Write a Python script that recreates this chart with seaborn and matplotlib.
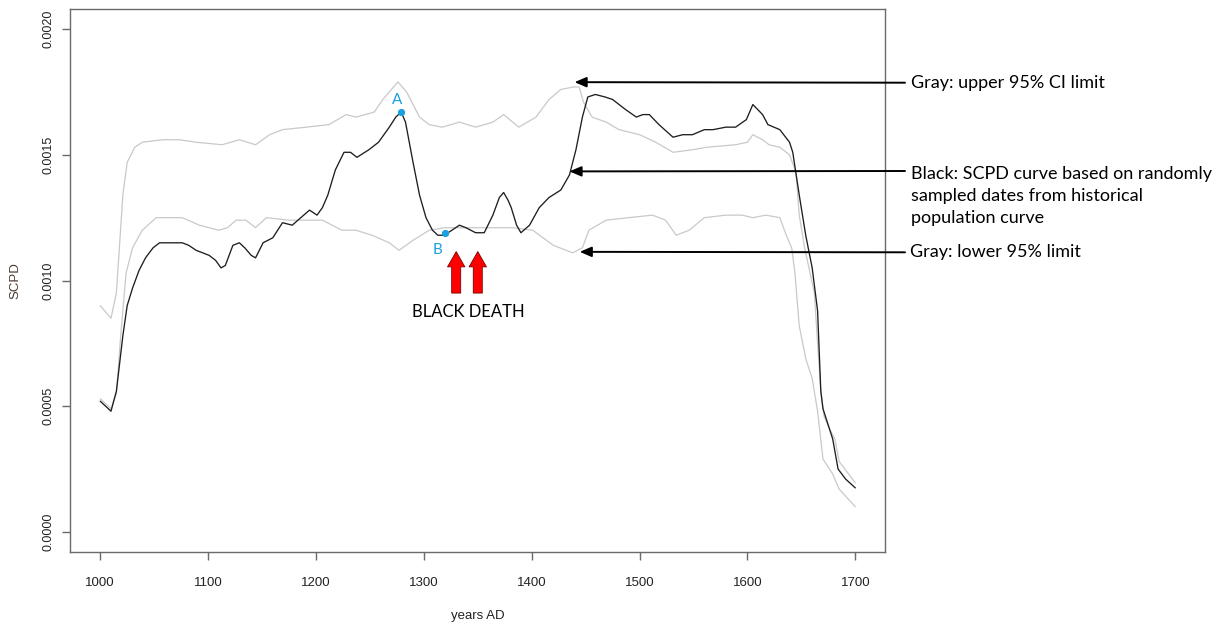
import matplotlib
matplotlib.use("Agg")
import matplotlib.pyplot as plt
import seaborn as sns

# ---------------- data ----------------
black_years = [1000, 1005, 1010, 1015, 1021, 1025, 1030, 1036, 1042, 1049, 1055, 1076, 1082, 1089,
               1101, 1107, 1112, 1116, 1123, 1129, 1134, 1140, 1144, 1151, 1160, 1169, 1178, 1186,
               1194, 1201, 1206, 1211, 1218, 1226, 1232, 1238, 1249, 1258, 1268, 1274, 1279, 1283,
               1290, 1296, 1302, 1308, 1313, 1319, 1326, 1333, 1339, 1348, 1356, 1364, 1370, 1374,
               1378, 1381, 1386, 1390, 1398, 1407, 1416, 1427, 1435, 1441, 1447, 1452, 1459, 1468,
               1475, 1487, 1497, 1503, 1509, 1518, 1531, 1540, 1549, 1560, 1568, 1580, 1589, 1599,
               1605, 1614, 1619, 1630, 1639, 1642, 1648, 1654, 1660, 1665, 1668, 1670, 1679, 1684,
               1691, 1700]
black_scpd = [0.00052, 0.00050, 0.00048, 0.00056, 0.00078, 0.00090, 0.00097, 0.00104, 0.00109,
              0.00113, 0.00115, 0.00115, 0.00114, 0.00112, 0.00110, 0.00108, 0.00105, 0.00106,
              0.00114, 0.00115, 0.00113, 0.00110, 0.00109, 0.00115, 0.00117, 0.00123, 0.00122,
              0.00125, 0.00128, 0.00126, 0.00129, 0.00134, 0.00144, 0.00151, 0.00151, 0.00149,
              0.00152, 0.00155, 0.00161, 0.00165, 0.00167, 0.00163, 0.00147, 0.00134, 0.00125,
              0.00120, 0.00118, 0.00118, 0.00120, 0.00122, 0.00121, 0.00119, 0.00119, 0.00126,
              0.00133, 0.00135, 0.00132, 0.00129, 0.00122, 0.00119, 0.00122, 0.00129, 0.00133,
              0.00136, 0.00142, 0.00152, 0.00165, 0.00173, 0.00174, 0.00173, 0.00172, 0.00168,
              0.00165, 0.00166, 0.00166, 0.00162, 0.00157, 0.00158, 0.00158, 0.00160, 0.00160,
              0.00161, 0.00161, 0.00164, 0.00170, 0.00166, 0.00162, 0.00160, 0.00155, 0.00151,
              0.00134, 0.00118, 0.00105, 0.00088, 0.00056, 0.00049, 0.00037, 0.00025, 0.00021,
              0.000175]

upper_years = [1000, 1010, 1015, 1021, 1025, 1032, 1039, 1058, 1073, 1089, 1113, 1129, 1144, 1157,
               1169, 1191, 1212, 1228, 1237, 1254, 1262, 1276, 1284, 1296, 1305, 1317, 1333, 1348,
               1364, 1374, 1388, 1404, 1416, 1427, 1439, 1444, 1448, 1456, 1469, 1481, 1500, 1515,
               1531, 1549, 1562, 1589, 1600, 1605, 1614, 1620, 1630, 1639, 1645, 1648, 1653, 1658,
               1662, 1665, 1668, 1671, 1676, 1681, 1685, 1700]
upper_scpd = [0.00090, 0.00085, 0.00095, 0.00134, 0.00147, 0.00153, 0.00155, 0.00156, 0.00156,
              0.00155, 0.00154, 0.00156, 0.00154, 0.00158, 0.00160, 0.00161, 0.00162, 0.00166,
              0.00165, 0.00167, 0.00172, 0.00179, 0.00175, 0.00165, 0.00162, 0.00161, 0.00163,
              0.00161, 0.00163, 0.00166, 0.00161, 0.00165, 0.00172, 0.00176, 0.00177, 0.00177,
              0.00171, 0.00165, 0.00163, 0.00160, 0.00158, 0.00155, 0.00151, 0.00152, 0.00153,
              0.00154, 0.00155, 0.00158, 0.00156, 0.00154, 0.00153, 0.00150, 0.00143, 0.00126,
              0.00113, 0.00103, 0.00095, 0.00075, 0.00056, 0.00046, 0.00041, 0.00037, 0.00028,
              0.000195]

lower_years = [1000, 1010, 1015, 1019, 1024, 1030, 1039, 1052, 1076, 1092, 1110, 1118, 1126, 1135,
               1144, 1154, 1175, 1206, 1224, 1237, 1252, 1268, 1277, 1290, 1305, 1320, 1351, 1382,
               1401, 1420, 1438, 1447, 1453, 1469, 1490, 1512, 1524, 1534, 1546, 1560, 1580, 1595,
               1605, 1617, 1630, 1636, 1641, 1644, 1648, 1654, 1660, 1665, 1670, 1679, 1685, 1700]
lower_scpd = [0.00053, 0.00049, 0.00055, 0.00078, 0.00103, 0.00113, 0.00120, 0.00125, 0.00125,
              0.00122, 0.00120, 0.00121, 0.00124, 0.00124, 0.00121, 0.00125, 0.00124, 0.00124,
              0.00120, 0.00120, 0.00118, 0.00115, 0.00112, 0.00116, 0.00120, 0.00121, 0.00121,
              0.00121, 0.00120, 0.00114, 0.00111, 0.00113, 0.00120, 0.00124, 0.00125, 0.00126,
              0.00124, 0.00118, 0.00120, 0.00125, 0.00126, 0.00126, 0.00125, 0.00126, 0.00125,
              0.00118, 0.00113, 0.00103, 0.00082, 0.00069, 0.00061, 0.00048, 0.00029, 0.00023,
              0.00017, 0.00010]

x_ticks = [1000, 1100, 1200, 1300, 1400, 1500, 1600, 1700]
y_ticks = [0.0000, 0.0005, 0.0010, 0.0015, 0.0020]
y_tick_labels = ["0.0000", "0.0005", "0.0010", "0.0015", "0.0020"]

point_labels = ["A", "B"]
point_years = [1279, 1320]
point_scpd = [0.001669, 0.001187]

plague_years = [1330, 1350]
plague_label = "BLACK DEATH"

note_upper = "Gray: upper 95% CI limit"
note_black = "Black: SCPD curve based on randomly\nsampled dates from historical\npopulation curve"
note_lower = "Gray: lower 95% limit"
note_targets_years = [1439.7, 1435.0, 1444.5]
note_targets_scpd = [0.001789, 0.001434, 0.001114]

# ---------------- styling ----------------
sns.set_style("white")
plt.rcParams["font.family"] = ["Liberation Sans", "DejaVu Sans"]

W, H = 1228, 624
fig = plt.figure(figsize=(W / 100, H / 100), dpi=100)
ax = fig.add_axes([70 / W, 72 / H, 815 / W, 543 / H])

gray = "#c9c9c9"
sns.lineplot(x=upper_years, y=upper_scpd, ax=ax, color=gray, linewidth=0.9, estimator=None)
sns.lineplot(x=lower_years, y=lower_scpd, ax=ax, color=gray, linewidth=0.9, estimator=None)
sns.lineplot(x=black_years, y=black_scpd, ax=ax, color="#1e1e1e", linewidth=0.95, estimator=None)

ax.set_xlim(972, 1727.5)
ax.set_ylim(-0.00008, 0.00208)
ax.set_xticks(x_ticks)
ax.set_xticklabels([str(t) for t in x_ticks])
ax.set_yticks(y_ticks)
ax.set_yticklabels(y_tick_labels, rotation=90, va="center")

for sp in ax.spines.values():
    sp.set_color("#6a6a6a")
    sp.set_linewidth(1.0)
    sp.set_visible(True)
ax.tick_params(axis="both", which="major", direction="out", length=6, width=1.0,
               color="#6a6a6a", labelcolor="#222222", bottom=True, left=True,
               top=False, right=False)
ax.tick_params(axis="x", labelsize=9.5, pad=12)
ax.tick_params(axis="y", labelsize=9, pad=5)
ax.grid(False)

ax.set_xlabel("years AD", fontsize=9.5, color="#222222")
ax.set_ylabel("SCPD", fontsize=9.5, color="#4a3a30")
ax.xaxis.set_label_coords(0.5, -(610 - 552) / 543)
ax.yaxis.set_label_coords((21 - 70) / 815, 0.5)

# A / B points
blue = "#1ca0e0"
ax.plot(point_years, point_scpd, "o", color=blue, markersize=4.2, zorder=5)
ax.text(point_years[0] - 4, point_scpd[0] + 0.000049, point_labels[0], color=blue,
        fontsize=11, family=["Lato", "DejaVu Sans"], ha="center", va="center")
ax.text(point_years[1] - 7, point_scpd[1] - 0.000065, point_labels[1], color=blue,
        fontsize=11, family=["Lato", "DejaVu Sans"], ha="center", va="center")

# Black Death red arrows
for yr in plague_years:
    ax.annotate("", xy=(yr, 0.001115), xytext=(yr, 0.000950),
                arrowprops=dict(arrowstyle="simple,head_length=11,head_width=12.5,tail_width=6.5",
                                mutation_scale=1, fc="#ff0000", ec="#7a0000", lw=0.6,
                                shrinkA=0, shrinkB=0))
ax.text(sum(plague_years) / 2 + 1, 0.000873, plague_label, fontsize=12,
        family=["Lato", "DejaVu Sans"], ha="center", va="center", color="black")

# right-hand notes with arrows
tail_x = 905
note_y_pix = [82.7, 171.0, 252.3]
for yr, val, ypix in zip(note_targets_years, note_targets_scpd, note_y_pix):
    ax.annotate("", xy=(yr, val), xycoords="data",
                xytext=(tail_x, H - ypix), textcoords="figure pixels",
                arrowprops=dict(arrowstyle="-|>,head_length=0.7,head_width=0.3",
                                mutation_scale=10, color="black", lw=1.4,
                                shrinkA=0, shrinkB=0),
                annotation_clip=False)

note_kw = dict(fontsize=13, family=["Lato", "DejaVu Sans"], ha="left", color="black")
fig.text(911 / W, 1 - 83 / H, note_upper, va="center", **note_kw)
fig.text(911 / W, 1 - 195.7 / H, note_black, va="center", linespacing=1.45, **note_kw)
fig.text(910 / W, 1 - 252.3 / H, note_lower, va="center", **note_kw)

fig.savefig("out.png", dpi=100)
